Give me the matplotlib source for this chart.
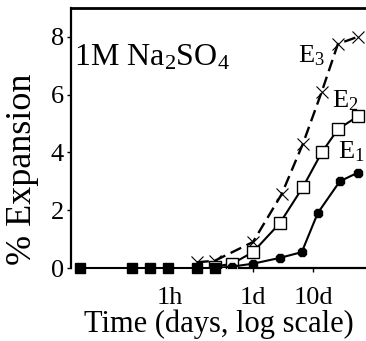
import matplotlib
matplotlib.use("Agg")
import matplotlib.pyplot as plt

plt.rcParams['font.family'] = ['Liberation Serif', 'DejaVu Serif']
plt.rcParams['mathtext.fontset'] = 'custom'
plt.rcParams['mathtext.rm'] = 'Liberation Serif'
plt.rcParams['mathtext.it'] = 'Liberation Serif:italic'

# times in days, expansion in %
t_early = [0.0013, 0.0095, 0.019, 0.038, 0.117, 0.23]
v_early = [0, 0, 0, 0, 0, 0]

t_e3 = [0.117, 0.23, 1.0, 3.0, 6.8, 14, 26, 56]
v_e3 = [0.2, 0.25, 0.9, 2.55, 4.3, 6.1, 7.75, 8.0]

t_e2 = [0.23, 0.45, 1.0, 2.8, 6.8, 14, 26, 56]
v_e2 = [0.05, 0.15, 0.55, 1.55, 2.8, 4.0, 4.8, 5.25]

t_e1 = [0.23, 0.45, 1.0, 2.8, 6.5, 12, 28, 56]
v_e1 = [0.0, 0.05, 0.15, 0.35, 0.55, 1.9, 3.0, 3.3]

xticks = [1 / 24, 1, 10]
xticklabels = ['1h', '1d', '10d']
yticks = [0, 2, 4, 6, 8]

fig = plt.figure(figsize=(3.66, 3.41), dpi=100)
ax = fig.add_axes([0.194, 0.214, 0.806, 0.763])

ax.plot(t_e3, v_e3, color='black', lw=1.7, ls=(0, (5, 2.5)),
        marker='x', ms=9, mew=0.8, mfc='none', zorder=3)
ax.plot(t_e2, v_e2, color='black', lw=1.5, marker='s', ms=8,
        mfc='white', mec='black', mew=1.0, zorder=4)
ax.plot(t_e1, v_e1, color='black', lw=1.5, marker='8', ms=7,
        mfc='black', zorder=5)
ax.plot(t_early, v_early, color='black', lw=1.5, marker='s', ms=7,
        mfc='black', zorder=6, clip_on=False)

ax.set_xscale('log')
ax.set_xlim(0.00093, 76.4)
ax.set_ylim(0, 9)

ax.set_xticks(xticks)
ax.set_xticklabels(xticklabels)
ax.minorticks_off()
ax.set_yticks(yticks)
ax.tick_params(axis='both', direction='out', length=3, width=1.0,
               labelsize=19, pad=2)
ax.tick_params(axis='x', pad=11)

ax.spines['right'].set_visible(False)
ax.spines['top'].set_linewidth(2.0)
ax.spines['left'].set_linewidth(1.6)
ax.spines['bottom'].set_linewidth(1.6)
ax.spines['bottom'].set_bounds(0.37, 76.4)

ax.set_xlabel('Time (days, log scale)', fontsize=22, labelpad=0)
ax.set_ylabel('% Expansion', fontsize=26)
ax.yaxis.set_label_coords(-0.11, 0.38)

ax.text(0.00105, 7.0, r'1M Na$_2$SO$_4$', fontsize=23, va='baseline')
ax.text(5.6, 7.13, r'E$_3$', fontsize=19, va='baseline')
ax.text(21, 5.54, r'E$_2$', fontsize=19, va='baseline')
ax.text(26, 3.8, r'E$_1$', fontsize=19, va='baseline')

fig.savefig('out.png', dpi=100, facecolor='white')
